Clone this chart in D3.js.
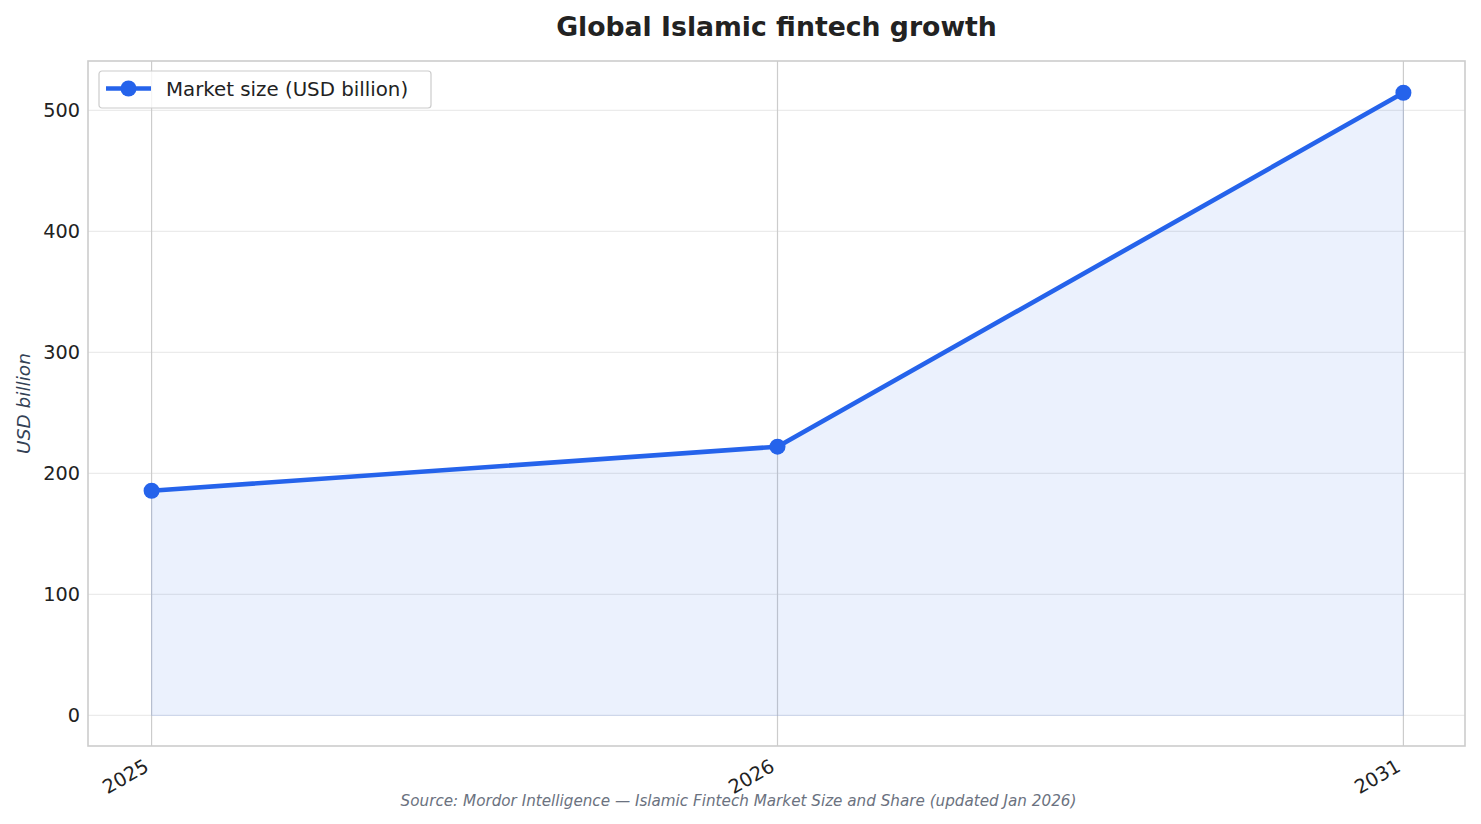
<!DOCTYPE html>
<html>
<head>
<meta charset="utf-8">
<script src="https://cdn.jsdelivr.net/npm/d3@7"></script>
<style>
  body { margin: 0; background: #fff; }
  text { font-family: "DejaVu Sans", sans-serif; }
</style>
</head>
<body>
<script>
var w = 1481;
var h = 824;

// data
var years = ["2025", "2026", "2031"];
var marketSize = [185.7, 222.1, 514.6];
var yTicks = [0, 100, 200, 300, 400, 500];
var seriesName = "Market size (USD billion)";

var m = {left: 88, right: 1465, top: 61, bottom: 746};
var blue = "#2563eb";

var svg = d3.select("body")
            .append("svg")
            .attr("width", w)
            .attr("height", h);

var x = d3.scaleLinear()
          .domain([-0.1, years.length - 1 + 0.1])
          .range([m.left + 1, m.right + 1]);

var maxV = d3.max(marketSize);
var y = d3.scaleLinear()
          .domain([-0.05 * maxV, maxV * 1.05])
          .range([m.bottom + 0.6, m.top + 0.6]);

var pts = marketSize.map(function(v, i){ return {i: i, v: v}; });

// horizontal grid
svg.append("g")
   .selectAll("line")
   .data(yTicks)
   .enter()
   .append("line")
   .attr("x1", m.left).attr("x2", m.right)
   .attr("y1", function(d){ return y(d); })
   .attr("y2", function(d){ return y(d); })
   .attr("stroke", "#ebebeb")
   .attr("stroke-width", 1.2);

// vertical grid at each year
svg.append("g")
   .selectAll("line")
   .data(years)
   .enter()
   .append("line")
   .attr("x1", function(d, i){ return x(i); })
   .attr("x2", function(d, i){ return x(i); })
   .attr("y1", m.top).attr("y2", m.bottom)
   .attr("stroke", "#cccccc")
   .attr("stroke-width", 1.2);

// area under line
var area = d3.area()
             .x(function(d){ return x(d.i); })
             .y0(y(0))
             .y1(function(d){ return y(d.v); });

svg.append("path")
   .datum(pts)
   .attr("d", area)
   .attr("fill", blue)
   .attr("fill-opacity", 0.09)
   .attr("stroke", blue)
   .attr("stroke-opacity", 0.1)
   .attr("stroke-width", 1);

var line = d3.line()
             .x(function(d){ return x(d.i); })
             .y(function(d){ return y(d.v); });

svg.append("path")
   .datum(pts)
   .attr("d", line)
   .attr("fill", "none")
   .attr("stroke", blue)
   .attr("stroke-width", 4.6)
   .attr("stroke-linejoin", "round");

svg.append("g")
   .selectAll("circle")
   .data(pts)
   .enter()
   .append("circle")
   .attr("cx", function(d){ return x(d.i); })
   .attr("cy", function(d){ return y(d.v); })
   .attr("r", 8)
   .attr("fill", blue);

// frame
svg.append("rect")
   .attr("x", m.left).attr("y", m.top)
   .attr("width", m.right - m.left)
   .attr("height", m.bottom - m.top)
   .attr("fill", "none")
   .attr("stroke", "#cccccc")
   .attr("stroke-width", 1.6);

// y axis
var yAxis = d3.axisLeft(y).tickValues(yTicks).tickSize(0).tickPadding(8);
var gy = svg.append("g")
   .attr("transform", "translate(" + m.left + ",0)")
   .call(yAxis);
gy.select(".domain").remove();
gy.selectAll("text")
  .attr("font-size", 19.3)
  .attr("fill", "#222222")
  .style("font-family", "DejaVu Sans, sans-serif");

// x axis
var xAxis = d3.axisBottom(x)
              .tickValues(d3.range(years.length))
              .tickFormat(function(i){ return years[i]; })
              .tickSize(0);
var gx = svg.append("g")
   .attr("transform", "translate(0," + m.bottom + ")")
   .call(xAxis);
gx.select(".domain").remove();
gx.selectAll("text")
  .attr("font-size", 19.3)
  .attr("fill", "#222222")
  .style("font-family", "DejaVu Sans, sans-serif")
  .attr("text-anchor", "end")
  .attr("y", 0)
  .attr("dy", 0)
  .attr("transform", "translate(-2,24) rotate(-30)");

// y label
svg.append("text")
   .attr("transform", "translate(29.5," + ((m.top + m.bottom) / 2) + ") rotate(-90)")
   .attr("text-anchor", "middle")
   .attr("font-size", 18.5)
   .attr("font-style", "italic")
   .attr("fill", "#334155")
   .text("USD billion");

// title
svg.append("text")
   .attr("x", (m.left + m.right) / 2)
   .attr("y", 36)
   .attr("text-anchor", "middle")
   .attr("font-size", 26.7)
   .attr("font-weight", "bold")
   .attr("fill", "#222222")
   .text("Global Islamic fintech growth");

// source
svg.append("text")
   .attr("x", w / 2 - 2)
   .attr("y", 805.5)
   .attr("text-anchor", "middle")
   .attr("font-size", 15.2)
   .attr("font-style", "italic")
   .attr("fill", "#6b7280")
   .text("Source: Mordor Intelligence \u2014 Islamic Fintech Market Size and Share (updated Jan 2026)");

// legend
var lg = svg.append("g").attr("transform", "translate(99,71)");
lg.append("rect")
  .attr("width", 332).attr("height", 37)
  .attr("rx", 3)
  .attr("fill", "#ffffff").attr("fill-opacity", 0.8)
  .attr("stroke", "#cccccc").attr("stroke-width", 1.2);
lg.append("line")
  .attr("x1", 7).attr("x2", 52)
  .attr("y1", 17.5).attr("y2", 17.5)
  .attr("stroke", blue).attr("stroke-width", 4.6);
lg.append("circle")
  .attr("cx", 29.5).attr("cy", 17.5).attr("r", 8)
  .attr("fill", blue);
lg.append("text")
  .attr("x", 67).attr("y", 24.5)
  .attr("font-size", 19.8)
  .attr("fill", "#222222")
  .text(seriesName);
</script>
</body>
</html>
